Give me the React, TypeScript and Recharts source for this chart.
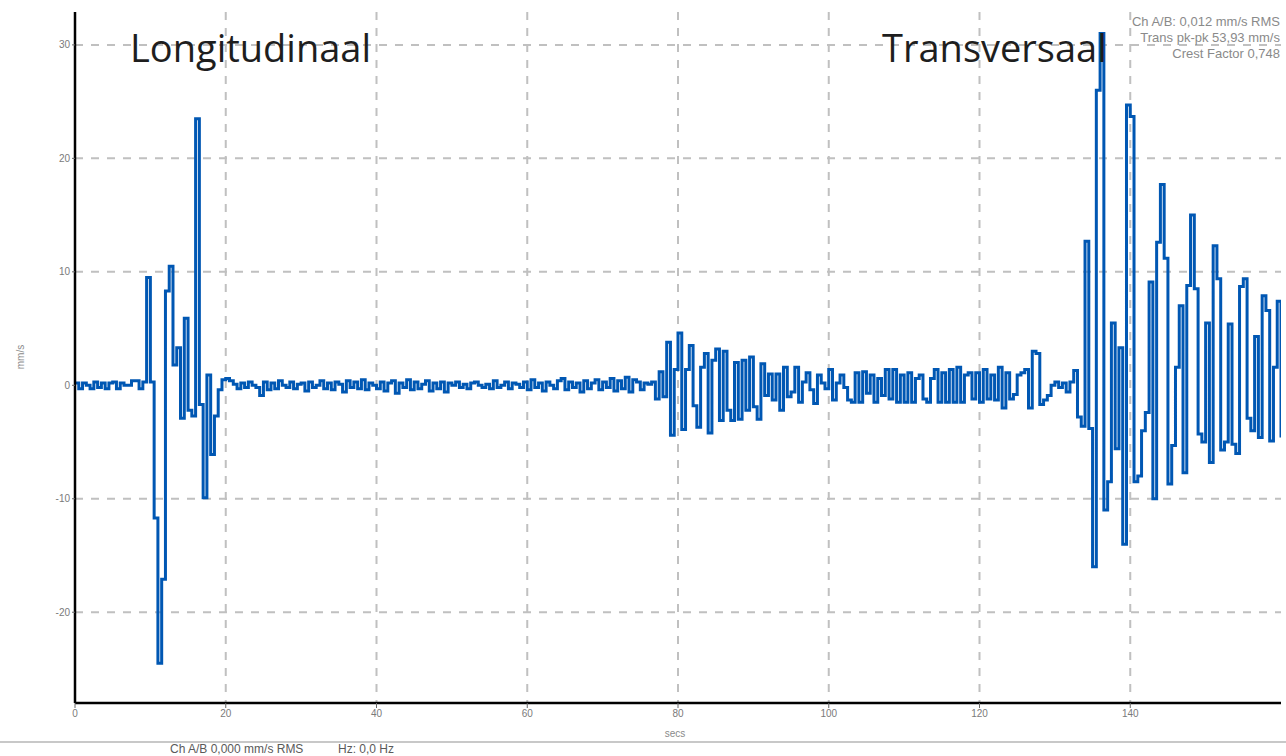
import { ComposedChart, Line, XAxis, YAxis, CartesianGrid } from "recharts";

// sample interval of the recorder trace, seconds
const STEP = 0.5;

// start time (s) of each stretch of samples below
const segmentStarts = [0, 9.5, 19.5, 76.5, 103, 133];

// mm/s, one value every STEP seconds
const quietStart = [0.2, -0.3, 0.2, 0, -0.3, 0.3, -0.2, 0.2, -0.3, 0.2, 0.3, -0.3, 0.2, 0, 0, 0.4, 0.4, -0.3, 0.3];

const longitudinal = [
  9.5, 0.3, -11.7, -24.5, -17.1, 8.3, 10.5, 1.8, 3.3, -2.9,
  5.9, -2.2, -2.7, 23.5, -1.7, -9.9, 0.9, -6.1, -2.7, -0.4,
];

const quietMiddle = [
  0.5, 0.6, 0.4, 0.1, -0.3, 0.2, -0.2, 0.3, 0, -0.2,
  -0.9, 0.3, -0.4, 0.2, -0.3, 0.4, 0, -0.2, 0.3, -0.3,
  0.1, 0.2, -0.5, 0.3, -0.2, 0, 0.4, -0.3, 0.2, -0.4,
  0.3, 0.1, -0.6, 0.4, -0.2, 0.3, -0.3, 0.5, -0.4, 0.2,
  0, -0.3, 0.3, -0.5, 0.2, 0.4, -0.7, 0.2, -0.2, 0.5,
  -0.4, 0.3, -0.3, 0.1, 0.4, -0.5, 0.2, -0.3, 0.3, -0.6,
  0.2, 0, 0.3, -0.2, 0.1, -0.3, 0.2, 0.3, 0, -0.2,
  0.1, -0.3, 0.4, -0.2, 0, 0.3, -0.3, 0.2, 0.1, -0.2,
  0.3, -0.4, 0.5, -0.2, 0.2, -0.5, 0.3, 0, -0.3, 0.4,
  0.6, -0.4, 0.3, -0.2, 0.2, -0.6, 0.4, -0.3, 0.2, 0.5,
  -0.4, 0.3, -0.2, 0.6, -0.5, 0.4, -0.3, 0.7, -0.6, 0.5,
  0.3, -0.4, 0.2, 0.1,
];

const burst = [
  0.3, -1.2, 1.2, -1.0, 3.8, -4.4, 1.4, 4.6, -3.9, 1.4,
  3.5, -1.8, -3.7, 1.6, 2.8, -4.2, 2.2, 3.2, -3.1, 3.0,
  -2.2, -3.1, 2.0, -3.0, 2.2, -2.2, 2.5, -1.9, -3.0, 1.9,
  -0.9, 1.0, -1.3, 1.0, -2.2, 1.6, -1.0, -0.6, 1.6, -1.5,
  0.3, 1.1, -0.4, -1.6, 0.9, 0.2, -0.3, 1.4, -1.3, 0.2,
  0.9, -0.2, -1.3,
];

const decay = [
  -1.5, 1.1, -1.5, 1.2, -0.7, 0.9, -1.5, 0.6, -0.9, 1.4,
  -1.2, 1.4, -1.5, 0.9, -1.5, 1.1, -1.5, 0.6, 0.9, -1.2,
  -1.5, 0.6, 1.4, -1.5, 1.1, -1.5, 1.4, -1.5, 1.6, -1.5,
  0.9, 1.1, -1.2, 1.1, -1.5, 1.4, -1.2, 0.9, -1.3, 1.6,
  -2.0, 1.1, -1.2, -0.8, 0.9, 1.1, 1.4, -2.0, 3.0, 2.8,
  -1.7, -1.3, -0.9, 0, 0.3, -0.2, 0.2, -0.6, 0.3, 1.3,
];

const transversal = [
  -2.8, -3.6, 12.7, -3.8, -16, 26, 31, -11, -8.5, 5.5,
  -5.6, 3.3, -14, 24.7, 23.7, -8.5, -8, -4, -2.4, 9.1,
  -10, 12.6, 17.7, 11.2, -8.7, -5.3, 1.6, 7.0, -7.7, 8.8,
  15, 8.5, -4.3, -5, 5.5, -6.8, 12.3, 9.4, -5.7, -5,
  5.4, -5.2, -6, 8.7, 9.4, -2.9, -4, 4.3, -4.6, 7.9,
  6.6, -4.9, 1.6, 7.4, -4.6,
];

const segments = [quietStart, longitudinal, quietMiddle, burst, decay, transversal];

const xTicks = [0, 20, 40, 60, 80, 100, 120, 140];
const yTicks = [-20, -10, 0, 10, 20, 30];
const xGrid = [20, 40, 60, 80, 100, 120, 140];
const yGrid = [-20, -10, 10, 20, 30];

const statLines = ["Ch A/B: 0,012 mm/s RMS", "Trans pk-pk 53,93 mm/s", "Crest Factor 0,748"];
const footer = ["Ch A/B 0,000 mm/s RMS", "Hz: 0,0 Hz"];

const data = segments.flatMap((vals, s) =>
  vals.map((v, i) => ({ t: segmentStarts[s] + i * STEP, v }))
);

const tickStyle = { fontSize: 10, fill: "#7a7a7a", fontFamily: "Liberation Sans, sans-serif" };
const small = "Liberation Sans, sans-serif";

export default function App() {
  return (
    <div style={{ position: "absolute", left: 0, top: 0, width: 1286, height: 756, background: "#fff" }}>
      <ComposedChart width={1286} height={756} data={data} margin={{ top: 12, right: 5, bottom: 33, left: 45 }}>
        <CartesianGrid
          stroke="#c0c0c0"
          strokeWidth={2}
          strokeDasharray="8 8"
          horizontalValues={yGrid}
          verticalValues={xGrid}
        />
        <XAxis
          type="number"
          dataKey="t"
          domain={[0, 160]}
          ticks={xTicks}
          allowDataOverflow
          height={20}
          tick={tickStyle}
          tickSize={5}
          tickLine={{ stroke: "#666" }}
          axisLine={{ stroke: "#000", strokeWidth: 2.5 }}
        />
        <YAxis
          type="number"
          domain={[-28, 32.9]}
          ticks={yTicks}
          allowDataOverflow
          width={30}
          tick={tickStyle}
          tickSize={3}
          tickLine={{ stroke: "#666" }}
          axisLine={{ stroke: "#000", strokeWidth: 2.5 }}
        />
        <Line
          type="stepAfter"
          dataKey="v"
          stroke="#0057b3"
          strokeWidth={3}
          dot={false}
          isAnimationActive={false}
        />
      </ComposedChart>
      <svg width={1286} height={756} style={{ position: "absolute", left: 0, top: 0, pointerEvents: "none" }}>
        <text x={130} y={62} fontSize={38} fontFamily="Open Sans, sans-serif" fill="#1e1e1e">Longitudinaal</text>
        <text x={882} y={62} fontSize={38} fontFamily="Open Sans, sans-serif" fill="#1e1e1e">Transversaal</text>
        {statLines.map((s, i) => (
          <text key={s} x={1280} y={26 + i * 16} textAnchor="end" fontSize={13} fontFamily={small} fill="#8a8a8a">{s}</text>
        ))}
        <text x={24} y={357} fontSize={10} fill="#8a8a8a" fontFamily={small} textAnchor="middle" transform="rotate(-90 24 357)">mm/s</text>
        <text x={675} y={737} fontSize={10} fill="#8a8a8a" fontFamily={small} textAnchor="middle">secs</text>
        <rect x={0} y={741} width={1286} height={2} fill="#c8c8c8" />
        <text x={170} y={753} fontSize={12} fill="#5a5a5a" fontFamily={small}>{footer[0]}</text>
        <text x={338} y={753} fontSize={12} fill="#5a5a5a" fontFamily={small}>{footer[1]}</text>
      </svg>
    </div>
  );
}
